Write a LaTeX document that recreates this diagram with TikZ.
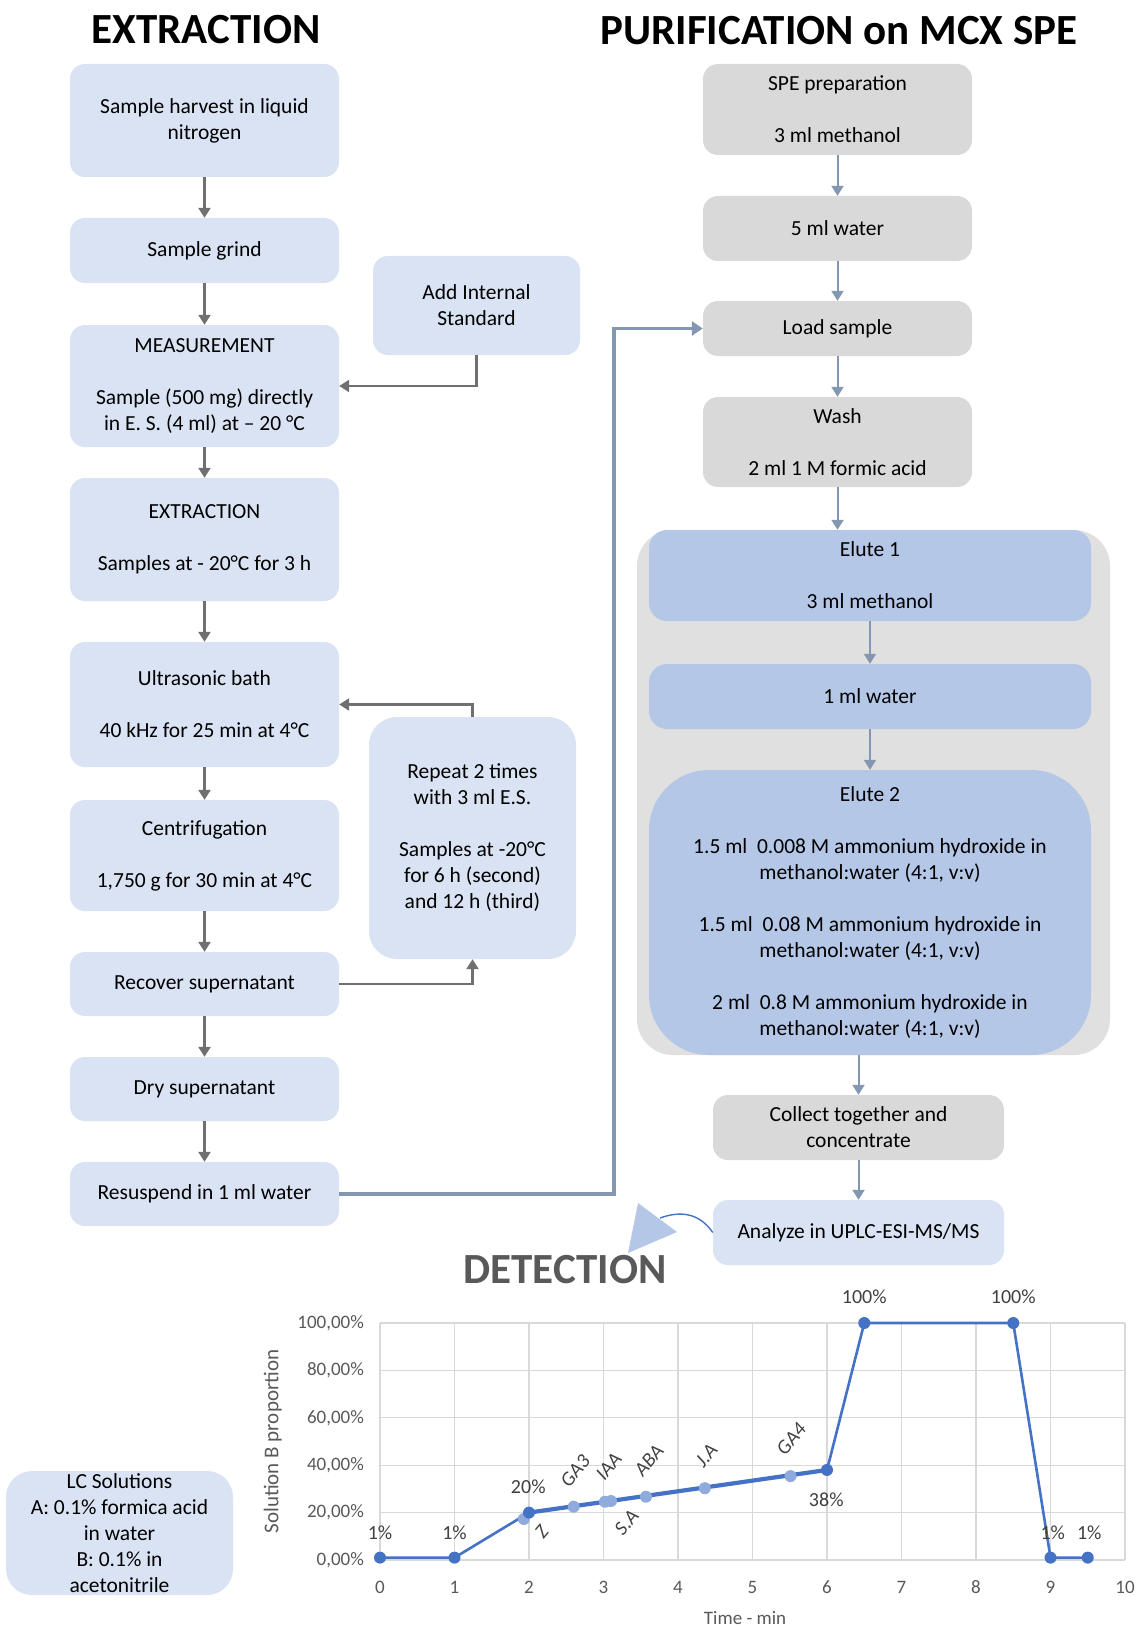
\documentclass[tikz,border=0pt]{standalone}
\usepackage{fontspec}
\setmainfont{Carlito}
\usetikzlibrary{arrows.meta}
\definecolor{lb}{HTML}{DAE3F3}
\definecolor{eb}{HTML}{B4C7E7}
\definecolor{gb}{HTML}{D9D9D9}
\definecolor{cg}{HTML}{E0E0E0}
\definecolor{ag}{HTML}{707070}
\definecolor{ab}{HTML}{8497B0}
\definecolor{cl}{HTML}{4472C4}
\definecolor{cm}{HTML}{8FAADC}
\definecolor{tg}{HTML}{595959}
\definecolor{lg}{HTML}{404040}
\definecolor{grd}{HTML}{D9D9D9}
\newcommand\bodyfs{\fontsize{21.5}{26}\selectfont}
\newcommand\titlefs{\bfseries\fontsize{43}{50}\selectfont}
\newcommand\chartfs{\fontsize{19}{22}\selectfont}
\newcommand\datafs{\fontsize{20}{23}\selectfont}
\tikzset{
  box/.style={rectangle, rounded corners=15pt, fill=lb, align=center, font=\bodyfs, inner sep=0pt, text=black},
  gbox/.style={box, fill=gb},
  ebox/.style={box, fill=eb, rounded corners=18pt},
  garr/.style={draw=ag, line width=2.4pt, -{Triangle[width=12pt,length=10pt]}},
  barr/.style={draw=ab, line width=2pt, -{Triangle[width=12pt,length=10pt]}},
  longarr/.style={draw=ab, line width=3.5pt, -{Triangle[width=14pt,length=11pt]}},
  grid/.style={draw=grd, line width=1.3pt},
  dm/.style={circle, fill=cl, minimum size=12pt, inner sep=0pt},
  lm/.style={circle, fill=cm, minimum size=12pt, inner sep=0pt},
  dlab/.style={font=\datafs, text=lg, inner sep=1pt},
  rlab/.style={font=\datafs\itshape, text=lg, rotate=50, inner sep=0pt},
  tick/.style={font=\chartfs, text=tg, inner sep=1pt}
}
\begin{document}
\begin{tikzpicture}[x=1pt,y=-1pt]
\useasboundingbox (0,0) rectangle (1137,1629);
\fill[white] (0,0) rectangle (1137,1629);

% titles
\node[font=\titlefs] (t1) at (206,30) {EXTRACTION};
\node[font=\titlefs] (t2) at (839,31) {PURIFICATION on MCX SPE};
\node[font=\titlefs, text=tg] (t3) at (565,1270) {DETECTION};

% left column
\node[box, minimum width=269pt, minimum height=113pt] (n1) at (204.5,120.5) {Sample harvest in liquid\\nitrogen};
\node[box, minimum width=269pt, minimum height=65pt] (n2) at (204.5,250.5) {Sample grind};
\node[box, minimum width=269pt, minimum height=122pt] (n3) at (204.5,386) {MEASUREMENT\\[26pt]Sample (500 mg) directly\\in E. S. (4 ml) at – 20 °C};
\node[box, minimum width=269pt, minimum height=123pt] (n4) at (204.5,539.5) {EXTRACTION\\[26pt]Samples at - 20°C for 3 h};
\node[box, minimum width=269pt, minimum height=125pt] (n5) at (204.5,704.5) {Ultrasonic bath\\[26pt]40 kHz for 25 min at 4°C};
\node[box, minimum width=269pt, minimum height=111pt] (n6) at (204.5,855.5) {Centrifugation\\[26pt]1,750 g for 30 min at 4°C};
\node[box, minimum width=269pt, minimum height=64pt] (n7) at (204.5,984) {Recover supernatant};
\node[box, minimum width=269pt, minimum height=64pt] (n8) at (204.5,1089) {Dry supernatant};
\node[box, minimum width=269pt, minimum height=64pt] (n9) at (204.5,1194) {Resuspend in 1 ml water};
\node[box, minimum width=207pt, minimum height=99pt] (addis) at (476.5,305.5) {Add Internal\\Standard};
\node[box, rounded corners=28pt, minimum width=207pt, minimum height=242pt] (rep) at (472.5,838) {Repeat 2 times\\with 3 ml E.S.\\[26pt]Samples at -20°C\\for 6 h (second)\\and 12 h (third)};

\draw[garr] (n1) -- (n2);
\draw[garr] (n2) -- (n3);
\draw[garr] (n3) -- (n4);
\draw[garr] (n4) -- (n5);
\draw[garr] (n5) -- (n6);
\draw[garr] (n6) -- (n7);
\draw[garr] (n7) -- (n8);
\draw[garr] (n8) -- (n9);
\draw[garr] (addis.south) |- (n3.east);
\draw[garr] (n7.east) -| (rep.south);
\draw[garr] (rep.north) |- (n5.east);

% right column
\node[gbox, minimum width=269pt, minimum height=91pt] (r1) at (837.5,109.5) {SPE preparation\\[26pt]3 ml methanol};
\node[gbox, minimum width=269pt, minimum height=65pt] (r2) at (837.5,228.5) {5 ml water};
\node[gbox, minimum width=269pt, minimum height=55pt] (r3) at (837.5,328.5) {Load sample};
\node[gbox, minimum width=269pt, minimum height=90pt] (r4) at (837.5,442) {Wash\\[26pt]2 ml 1 M formic acid};
\node[rectangle, rounded corners=36pt, fill=cg, minimum width=473pt, minimum height=525pt, inner sep=0pt] (cont) at (873.5,792.5) {};
\node[ebox, minimum width=442pt, minimum height=91pt] (e1) at (870,575.5) {Elute 1\\[26pt]3 ml methanol};
\node[ebox, minimum width=442pt, minimum height=65pt] (e2) at (870,696.5) {1 ml water};
\node[ebox, rounded corners=60pt, minimum width=442pt, minimum height=285pt] (e3) at (870,912.5) {Elute 2\\[26pt]1.5 ml~ 0.008 M ammonium hydroxide in\\methanol:water (4:1, v:v)\\[26pt]1.5 ml~ 0.08 M ammonium hydroxide in\\methanol:water (4:1, v:v)\\[26pt]2 ml~ 0.8 M ammonium hydroxide in\\methanol:water (4:1, v:v)};
\node[gbox, minimum width=291pt, minimum height=65pt] (col) at (858.5,1127.5) {Collect together and\\concentrate};
\node[box, minimum width=291pt, minimum height=65pt] (ana) at (858.5,1232.5) {Analyze in UPLC-ESI-MS/MS};

\draw[barr] (r1) -- (r2);
\draw[barr] (r2) -- (r3);
\draw[barr] (r3) -- (r4);
\draw[barr] (r4.south) -- (r4.south |- cont.north);
\draw[barr] (e1) -- (e2);
\draw[barr] (e2) -- (e3);
\draw[barr] (col.north |- cont.south) -- (col.north);
\draw[barr] (col) -- (ana);

\coordinate (lc) at (614,328.5);
\draw[longarr] (n9.east) -| (lc) -- (r3.west);

% detection pointer
\fill[eb] (638,1203) -- (677,1232) -- (628,1253) -- cycle;
\coordinate (dtip) at (660,1218);
\draw[cl, line width=1.4pt] (ana.west) .. controls (700,1214) and (682,1210) .. (dtip);

% LC solutions
\node[box, rounded corners=26pt, minimum width=227pt, minimum height=124pt] (lcs) at (119.5,1533) {LC Solutions\\A: 0.1\% formica acid\\in water\\B: 0.1\% in\\acetonitrile};

% chart
\begin{scope}[shift={(380,1560)}, x=74.5pt, y=2.37pt]
  \foreach \i in {0,...,10} \draw[grid] (\i,0) -- (\i,100);
  \foreach \j in {0,20,...,100} \draw[grid] (0,\j) -- (10,\j);
  \foreach \j/\t in {0/{0,00\%},20/{20,00\%},40/{40,00\%},60/{60,00\%},80/{80,00\%},100/{100,00\%}}
    \node[tick, anchor=east] (yl\j) at (-0.2,\j) {\t};
  \foreach \i in {0,...,10}
    \node[tick] (xl\i) at (\i,-11.4) {\i};
  \node[tick] (xt) at (4.9,-24.3) {Time - min};
  \node[font=\fontsize{21}{24}\selectfont, text=tg, rotate=90] (yt) at (-1.44,50) {Solution B proportion};
  \draw[cl, line width=2.6pt, line join=round] (0,1) -- (1,1) -- (2,20) -- (6,38) -- (6.5,100) -- (8.5,100) -- (9,1) -- (9.5,1);
  \draw[cl, line width=4.2pt, line cap=round] (2,20) -- (6,38);
  \node[lm] (pz) at (1.93,17.3) {};
  \node[lm] (pga3) at (2.6,22.5) {};
  \node[lm] (piaa) at (3.02,24.6) {};
  \node[lm] (psa) at (3.1,24.9) {};
  \node[lm] (paba) at (3.57,26.7) {};
  \node[lm] (pja) at (4.36,30.3) {};
  \node[lm] (pga4) at (5.51,35.4) {};
  \foreach \x/\y [count=\k] in {0/1,1/1,2/20,6/38,6.5/100,8.5/100,9/1,9.5/1}
    \node[dm] (pd\k) at (\x,\y) {};
  \node[dlab] (l1) at (0,11.5) {1\%};
  \node[dlab] (l2) at (1,11.5) {1\%};
  \node[dlab] (l3) at (1.99,31) {20\%};
  \node[dlab] (l4) at (5.99,25.5) {38\%};
  \node[dlab] (l5) at (6.5,111) {100\%};
  \node[dlab] (l6) at (8.5,111) {100\%};
  \node[dlab] (l7) at (9.03,11.5) {1\%};
  \node[dlab] (l8) at (9.52,11.5) {1\%};
  \node[rlab] (lz) at (2.17,12) {Z};
  \node[rlab] (lga3) at (2.62,37.5) {GA3};
  \node[rlab] (liaa) at (3.07,39.5) {IAA};
  \node[rlab] (laba) at (3.61,42) {ABA};
  \node[rlab] (lja) at (4.38,44) {J.A};
  \node[rlab] (lga4) at (5.52,51) {GA4};
  \node[rlab] (lsa) at (3.31,16) {S.A};
\end{scope}
\end{tikzpicture}
\end{document}
